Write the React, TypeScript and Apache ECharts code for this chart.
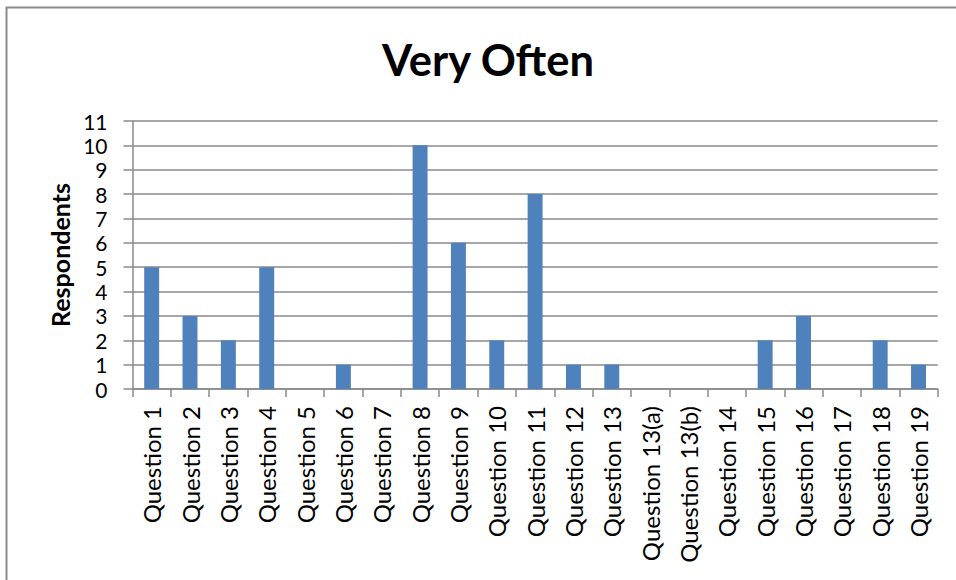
import React, { useEffect, useRef } from "react";
import * as echarts from "echarts";

const categories = [
  "Question 1", "Question 2", "Question 3", "Question 4", "Question 5",
  "Question 6", "Question 7", "Question 8", "Question 9", "Question 10",
  "Question 11", "Question 12", "Question 13", "Question 13(a)", "Question 13(b)",
  "Question 14", "Question 15", "Question 16", "Question 17", "Question 18",
  "Question 19",
];
const respondents = [5, 3, 2, 5, 0, 1, 0, 10, 6, 2, 8, 1, 1, 0, 0, 0, 2, 3, 0, 2, 1];
const yMin = 0;
const yMax = 11;
const yStep = 1;

const FONT = "Lato, 'Open Sans', sans-serif";
const GRAY = "#8a8a8a";

export default function App() {
  const ref = useRef<HTMLDivElement>(null);

  useEffect(() => {
    if (!ref.current) return;
    const chart = echarts.init(ref.current, null, { renderer: "svg" });
    chart.setOption({
      animation: false,
      backgroundColor: "#ffffff",
      textStyle: { fontFamily: FONT },
      title: {
        text: "Very Often",
        left: 377,
        top: 32,
        textStyle: { fontFamily: FONT, fontSize: 43.5, fontWeight: "bold", color: "#000" },
      },
      graphic: [
        {
          type: "rect",
          shape: { x: 6.5, y: 7.5, width: 1000, height: 1000 },
          style: { fill: "none", stroke: GRAY, lineWidth: 2 },
          silent: true,
        },
      ],
      grid: { left: 132.5, right: 18.3, top: 121, bottom: 191, containLabel: false },
      xAxis: {
        type: "category",
        data: categories,
        axisLine: { show: true, lineStyle: { color: GRAY, width: 1.5 } },
        axisTick: { show: true, inside: false, length: 8, lineStyle: { color: GRAY, width: 1.5 } },
        axisLabel: {
          interval: 0,
          rotate: 90,
          margin: 17,
          fontFamily: FONT,
          fontSize: 24,
          color: "#000",
        },
      },
      yAxis: {
        type: "value",
        min: yMin,
        max: yMax,
        interval: yStep,
        name: "Respondents",
        nameLocation: "middle",
        nameRotate: 90,
        nameGap: 60,
        nameTextStyle: { fontFamily: FONT, fontSize: 25, fontWeight: "bold", color: "#000" },
        axisLine: { show: true, lineStyle: { color: GRAY, width: 1.5 } },
        axisTick: { show: true, inside: false, length: 9, lineStyle: { color: GRAY, width: 1.5 } },
        axisLabel: { margin: 25, fontFamily: FONT, fontSize: 21, lineHeight: 22, color: "#000" },
        splitLine: { show: true, lineStyle: { color: GRAY, width: 1.5 } },
      },
      series: [
        {
          type: "bar",
          data: respondents,
          barWidth: "39%",
          itemStyle: { color: "#4f81bd" },
        },
      ],
    });
    return () => chart.dispose();
  }, []);

  return (
    <div
      ref={ref}
      style={{ position: "fixed", left: 0, top: 0, width: 956, height: 580, background: "#fff" }}
    />
  );
}
